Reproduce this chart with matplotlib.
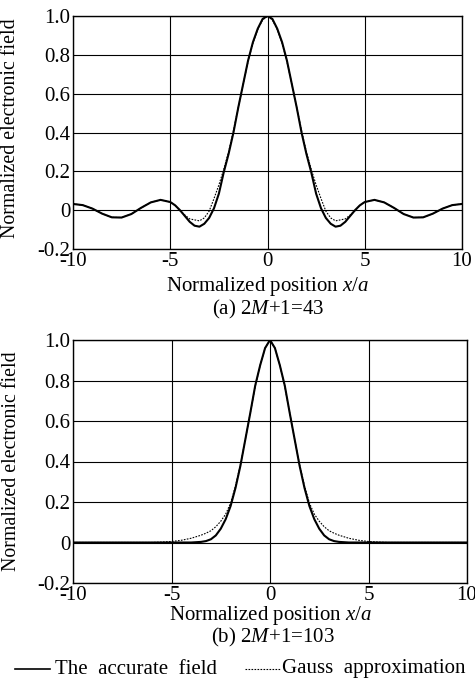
import matplotlib
matplotlib.use("Agg")
import matplotlib.pyplot as plt
from matplotlib.lines import Line2D

plt.rcParams['font.family'] = ['Liberation Serif', 'DejaVu Serif']
plt.rcParams['mathtext.fontset'] = 'custom'
plt.rcParams['mathtext.rm'] = 'Liberation Serif'
plt.rcParams['mathtext.it'] = 'Liberation Serif:italic'
plt.rcParams['axes.unicode_minus'] = False

# =========================
# DATA
# =========================
# (a) 2M+1=43
x_a = [-10.0, -9.5, -9.0, -8.5, -8.0, -7.5, -7.0, -6.5, -6.0, -5.5, -5.0,
       -4.75, -4.5, -4.25, -4.0, -3.75, -3.5, -3.25, -3.0, -2.75, -2.5,
       -2.25, -2.0, -1.75, -1.5, -1.25, -1.0, -0.75, -0.5, -0.25, 0.0,
       0.25, 0.5, 0.75, 1.0, 1.25, 1.5, 1.75, 2.0, 2.25, 2.5,
       2.75, 3.0, 3.25, 3.5, 3.75, 4.0, 4.25, 4.5, 4.75, 5.0,
       5.5, 6.0, 6.5, 7.0, 7.5, 8.0, 8.5, 9.0, 9.5, 10.0]
accurate_a = [0.032, 0.026, 0.008, -0.018, -0.037, -0.038, -0.020, 0.012, 0.040, 0.053, 0.042,
              0.025, 0.000, -0.030, -0.060, -0.080, -0.085, -0.070, -0.040, 0.010, 0.085,
              0.195, 0.290, 0.400, 0.530, 0.650, 0.770, 0.865, 0.935, 0.985, 1.000,
              0.985, 0.935, 0.865, 0.770, 0.650, 0.530, 0.400, 0.290, 0.195, 0.085,
              0.010, -0.040, -0.070, -0.085, -0.080, -0.060, -0.030, 0.000, 0.025, 0.042,
              0.053, 0.040, 0.012, -0.020, -0.038, -0.037, -0.018, 0.008, 0.026, 0.032]
gauss_a = [0.032, 0.026, 0.008, -0.018, -0.037, -0.038, -0.020, 0.012, 0.040, 0.053, 0.042,
           0.025, -0.003, -0.025, -0.045, -0.050, -0.055, -0.040, -0.005, 0.060, 0.130,
           0.210, 0.300, 0.410, 0.530, 0.650, 0.765, 0.860, 0.930, 0.980, 1.000,
           0.980, 0.930, 0.860, 0.765, 0.650, 0.530, 0.410, 0.300, 0.210, 0.130,
           0.060, -0.005, -0.040, -0.055, -0.050, -0.045, -0.025, -0.003, 0.025, 0.042,
           0.053, 0.040, 0.012, -0.020, -0.038, -0.037, -0.018, 0.008, 0.026, 0.032]

# (b) 2M+1=103
x_b = [-10.0, -9.0, -8.0, -7.0, -6.0, -5.5, -5.0, -4.5, -4.0, -3.5, -3.25,
       -3.0, -2.75, -2.5, -2.25, -2.0, -1.75, -1.5, -1.25, -1.0, -0.75,
       -0.5, -0.25, 0.0, 0.25, 0.5, 0.75, 1.0, 1.25, 1.5, 1.75,
       2.0, 2.25, 2.5, 2.75, 3.0, 3.25, 3.5, 4.0, 4.5, 5.0,
       5.5, 6.0, 7.0, 8.0, 9.0, 10.0]
accurate_b = [0.0, 0.0, 0.0, 0.0, 0.0, 0.0, 0.0, 0.0, 0.0, 0.003, 0.007,
              0.016, 0.035, 0.068, 0.115, 0.180, 0.270, 0.380, 0.510, 0.640, 0.775,
              0.875, 0.960, 1.000, 0.960, 0.875, 0.775, 0.640, 0.510, 0.380, 0.270,
              0.180, 0.115, 0.068, 0.035, 0.016, 0.007, 0.003, 0.0, 0.0, 0.0,
              0.0, 0.0, 0.0, 0.0, 0.0, 0.0]
gauss_b = [0.0, 0.0, 0.0, 0.0, 0.0, 0.002, 0.005, 0.011, 0.021, 0.036, 0.046,
           0.058, 0.078, 0.105, 0.140, 0.195, 0.280, 0.385, 0.510, 0.640, 0.770,
           0.875, 0.960, 1.000, 0.960, 0.875, 0.770, 0.640, 0.510, 0.385, 0.280,
           0.195, 0.140, 0.105, 0.078, 0.058, 0.046, 0.036, 0.021, 0.011, 0.005,
           0.002, 0.0, 0.0, 0.0, 0.0, 0.0]

x_ticks = [-10, -5, 0, 5, 10]
x_tick_labels = ["-10", "-5", "0", "5", "10"]
y_ticks = [-0.2, 0.0, 0.2, 0.4, 0.6, 0.8, 1.0]
y_tick_labels = ["-0.2", "0", "0.2", "0.4", "0.6", "0.8", "1.0"]

W, H = 475, 680
FS = 15


def setup_axes(ax):
    ax.set_xlim(-10, 10)
    ax.set_ylim(-0.2, 1.0)
    ax.set_xticks(x_ticks)
    ax.set_xticklabels(x_tick_labels)
    ax.set_yticks(y_ticks)
    ax.set_yticklabels(y_tick_labels)
    ax.tick_params(direction='in', length=0, labelsize=FS, pad=2)
    ax.grid(True, color='black', linewidth=0.8)
    for s in ax.spines.values():
        s.set_linewidth(1.0)
        s.set_color('black')
    ax.set_ylabel("Normalized electronic field", fontsize=14.3)
    ax.set_xlabel(r"Normalized position $x/a$", fontsize=FS)


fig = plt.figure(figsize=(W / 100, H / 100), dpi=100, facecolor='white')

# top panel
ax1 = fig.add_axes([73 / W, 1 - 249 / H, 389 / W, 233 / H])
setup_axes(ax1)
ax1.plot(x_a, accurate_a, color='black', linewidth=1.5, zorder=3)
ax1.plot(x_a, gauss_a, color='black', linewidth=0.8, dashes=(1.5, 1.2), zorder=4)
ax1.yaxis.set_label_coords(-0.135, 0.52)
ax1.xaxis.set_label_coords(0.5, -0.11)

# bottom panel
ax2 = fig.add_axes([73 / W, 1 - 583 / H, 394 / W, 243 / H])
setup_axes(ax2)
ax2.plot(x_b, accurate_b, color='black', linewidth=1.5, zorder=3)
ax2.plot(x_b, gauss_b, color='black', linewidth=0.8, dashes=(1.5, 1.2), zorder=4)
ax2.yaxis.set_label_coords(-0.133, 0.5)
ax2.xaxis.set_label_coords(0.5, -0.085)

# captions
fig.text(268 / W, 1 - 309 / H, r"(a) 2$\mathit{M}$+1=43", ha='center', va='center', fontsize=FS)
fig.text(273 / W, 1 - 637 / H, r"(b) 2$\mathit{M}$+1=103", ha='center', va='center', fontsize=FS)

# legend
ly = 1 - 669 / H
fig.add_artist(Line2D([15 / W, 50 / W], [ly, ly], color='black', linewidth=1.2,
                      transform=fig.transFigure))
fig.text(55 / W, ly, "The  accurate  field", ha='left', va='center', fontsize=FS)
fig.add_artist(Line2D([245 / W, 280 / W], [ly, ly], color='black', linewidth=0.8,
                      dashes=(1.5, 1.2), transform=fig.transFigure))
fig.text(282 / W, ly, "Gauss  approximation", ha='left', va='center', fontsize=FS)

plt.savefig("out.png", dpi=100, facecolor='white')
plt.close()
